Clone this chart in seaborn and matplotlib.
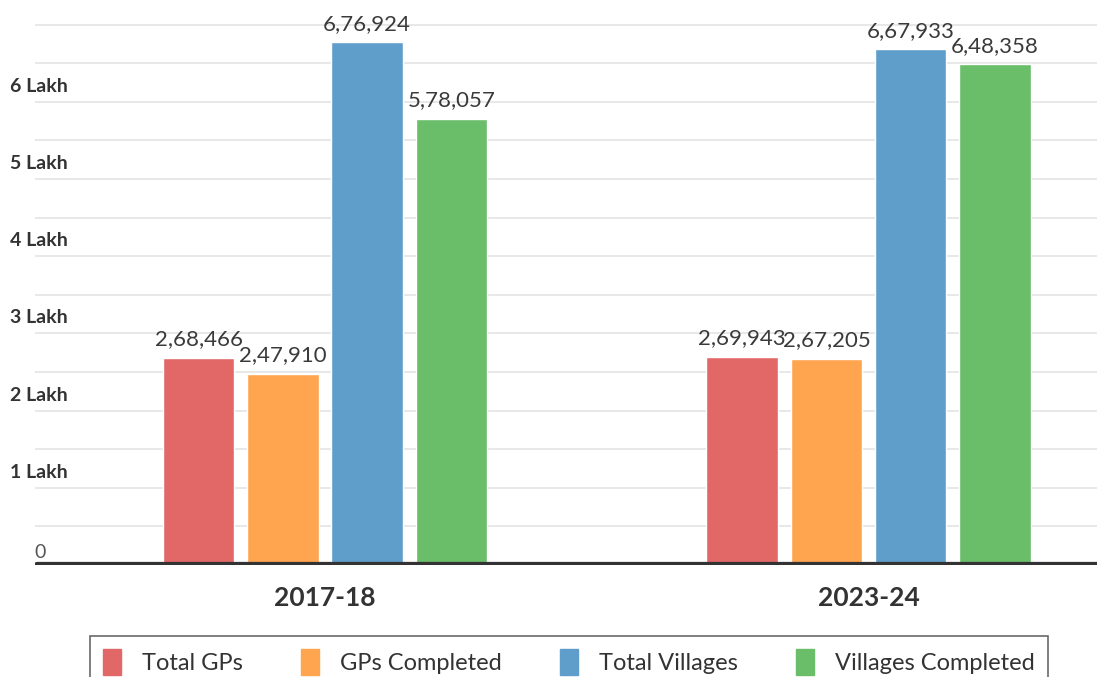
import numpy as np
import pandas as pd
import seaborn as sns
import matplotlib.pyplot as plt
import matplotlib.transforms as mtransforms

years = ["2017-18", "2023-24"]
series = ["Total GPs", "GPs Completed", "Total Villages", "Villages Completed"]
total_gps = [268466, 269943]
gps_completed = [247910, 267205]
total_villages = [676924, 667933]
villages_completed = [578057, 648358]
colors = ["#E26767", "#FFA550", "#5F9ECB", "#6ABD69"]
ytick_vals = [100000, 200000, 300000, 400000, 500000, 600000]
ytick_labels = ["1 Lakh", "2 Lakh", "3 Lakh", "4 Lakh", "5 Lakh", "6 Lakh"]


def indian_fmt(n):
    s = str(int(n))
    if len(s) <= 3:
        return s
    head, tail = s[:-3], s[-3:]
    parts = []
    while len(head) > 2:
        parts.insert(0, head[-2:])
        head = head[:-2]
    if head:
        parts.insert(0, head)
    return ",".join(parts) + "," + tail


df = pd.DataFrame({
    "year": years * 4,
    "series": np.repeat(series, len(years)),
    "value": total_gps + gps_completed + total_villages + villages_completed,
})

sns.set_theme(style="white")
plt.rcParams["font.family"] = ["Lato", "DejaVu Sans"]

fig = plt.figure(figsize=(10.97, 6.77), dpi=100)
ax = fig.add_axes([35 / 1097, 112 / 677, 1062 / 1097, 552 / 677])

sns.barplot(data=df, x="year", y="value", hue="series", hue_order=series,
            palette=colors, width=0.62, gap=0.15, saturation=1, ax=ax,
            legend=False)

ax.set_xlim(-0.5336, 1.4204)
ax.set_ylim(0, 715000)

# light gridlines every half lakh
for v in np.arange(50000, 700001, 50000):
    ax.axhline(v, color="#e8e8e8", lw=1.4, zorder=0)
ax.axhline(0, color="#333333", lw=4.5, zorder=5, xmin=2 / 1062)

for c in ax.containers:
    ax.bar_label(c, labels=[indian_fmt(v) for v in c.datavalues], padding=6,
                 fontsize=16, color="#3a3a3a")

for s in ax.spines.values():
    s.set_visible(False)
ax.set_yticks([])
ax.set_xticks([0, 1])
ax.set_xticklabels(years, fontsize=19, fontweight="bold", color="#333333")
ax.tick_params(axis="x", length=0, pad=15)
ax.set_xlabel("")
ax.set_ylabel("")

trans = mtransforms.blended_transform_factory(fig.transFigure, ax.transData)
for v, lab in zip(ytick_vals, ytick_labels):
    ax.annotate(lab, xy=(10 / 1097, v), xycoords=trans, xytext=(0, 5),
                textcoords="offset points", ha="left", va="bottom",
                fontsize=14, fontweight="bold", color="#333333",
                annotation_clip=False)
ax.annotate("0", xy=(34 / 1097, 0), xycoords=trans, xytext=(0, 3),
            textcoords="offset points", ha="left", va="bottom",
            fontsize=14, color="#555555", annotation_clip=False)

handles = [plt.Rectangle((0, 0), 1, 1, color=c) for c in colors]
leg = fig.legend(handles, series, loc="upper left",
                 bbox_to_anchor=(90 / 1097, 1 - 636 / 677), ncol=4,
                 fontsize=17, frameon=True, fancybox=False,
                 handlelength=0.76, handleheight=1.3, handletextpad=0.9,
                 columnspacing=2.45, borderpad=0.55, borderaxespad=0)
leg.get_frame().set_edgecolor("#444444")
leg.get_frame().set_linewidth(1.2)
for t in leg.get_texts():
    t.set_color("#333333")

fig.savefig("out.png", dpi=100)
